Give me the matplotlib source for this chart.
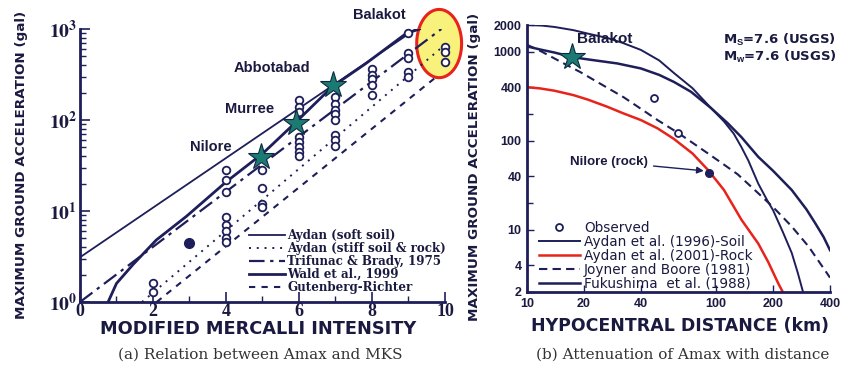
import numpy as np
import matplotlib
matplotlib.use("Agg")
import matplotlib.pyplot as plt
from matplotlib.lines import Line2D

plt.rcParams['mathtext.fontset'] = 'custom'
plt.rcParams['mathtext.rm'] = 'Liberation Sans:bold'
plt.rcParams['mathtext.bf'] = 'Liberation Sans:bold'
plt.rcParams['mathtext.it'] = 'Liberation Sans:bold'

NAVY = '#1e1e5a'
TXT = '#1a1a40'
RED = '#e8231c'
STAR = '#1b7a72'

# ---------------- Panel (a) data ----------------
mmi_ticks = [0, 2, 4, 6, 8, 10]
soft_I = [0.0, 9.2]
soft_A = [3.1, 1000]
stiff_I = [1.7, 9.9]
stiff_A = [1.0, 620]
trif_I = [0.0, 9.9]
trif_A = [1.0, 1000]
wald_I = [0.77, 1.0, 1.46, 2.09, 2.91, 4.01, 5.01, 5.92, 6.92, 7.83, 8.93, 9.3]
wald_A = [1.0, 1.6, 2.6, 4.8, 8.7, 21, 43, 95, 234, 417, 890, 1000]
gr_I = [2.1, 9.75]
gr_A = [1.0, 295]

obs_I = ([2] * 2 + [4] * 8 + [5] * 4 + [6] * 8 + [7] * 8 + [8] * 5 + [9] * 5 + [10] * 3)
obs_A = ([1.3, 1.6,
          28, 22, 16, 8.5, 7, 6, 5, 4.6,
          28, 18, 12, 11,
          165, 138, 122, 65, 57, 50, 45, 40,
          180, 150, 130, 115, 100, 68, 60, 52,
          360, 315, 280, 240, 190,
          900, 550, 480, 340, 300,
          640, 560, 430])
filled_I = [3]
filled_A = [4.4]
star_I = [4.97, 5.92, 6.92]
star_A = [39, 93, 242]
site_names = ['Nilore', 'Murree', 'Abbotabad', 'Balakot']
site_I = [3.58, 4.64, 5.25, 8.2]
site_A = [51, 132, 370, 1410]

ell_center = (9.84, 2.84)   # (MMI, log10 A)
ell_half = (0.615, 0.375)

# ---------------- Panel (b) data ----------------
dist_ticks = [10, 20, 40, 100, 200, 400]
acc_ticks = [2, 4, 10, 40, 100, 400, 1000, 2000]
aydsoil_R = [10, 12, 14, 17.6, 21, 26.6, 32, 40, 50, 59.8, 75, 94, 110, 124, 136, 148,
             167, 185, 200, 225, 251, 270, 290]
aydsoil_A = [2000, 1970, 1900, 1750, 1600, 1430, 1260, 1050, 800, 578, 390, 233, 165, 120,
             85, 60, 33, 22, 16.6, 9.5, 5.5, 3.3, 1.9]
aydrock_R = [10, 11.7, 14, 17.6, 21, 26.6, 32, 40, 49, 59.8, 75, 90.6, 110, 136, 167, 189,
             213, 228]
aydrock_A = [400, 388, 365, 326, 290, 241, 205, 171, 138, 105, 72, 47, 28, 13, 7, 4.3,
             2.5, 1.9]
jb_R = [10, 12, 15, 19.2, 24, 32.4, 40, 49.2, 62.8, 75, 90.6, 110, 130, 160, 200, 250,
        308, 400]
jb_A = [1200, 1000, 776, 589, 447, 309, 229, 170, 123, 95, 72, 54, 42, 28, 18, 11, 6.5, 2.9]
fuku_R = [10, 12, 14, 17.4, 22, 30, 40, 50, 60, 73.7, 94, 115, 136, 167, 200, 251, 300,
          333, 370, 400]
fuku_A = [1150, 1050, 980, 870, 810, 740, 650, 550, 457, 355, 233, 158, 110, 66, 46, 28,
          17, 12, 8.3, 5.9]
obsb_R = [46.8, 62.8]
obsb_A = [300, 123]
nilore_R = [91.6]
nilore_A = [44]
balakot_R = [17.2]
balakot_A = [870]

fig = plt.figure(figsize=(8.45, 3.75), dpi=100)

# ================= Panel (a) =================
ax1 = fig.add_axes([80 / 845, 1 - 302 / 375, 365 / 845, 273 / 375])
ax1.set_yscale('log')
ax1.set_xlim(0, 10)
ax1.set_ylim(1, 1000)

t = np.linspace(0, 2 * np.pi, 200)
ex = ell_center[0] + ell_half[0] * np.cos(t)
ey = 10 ** (ell_center[1] + ell_half[1] * np.sin(t))
ax1.fill(ex, ey, facecolor='#f8f27c', edgecolor=RED, lw=2.2, clip_on=False, zorder=1)

ax1.plot(soft_I, soft_A, color=NAVY, lw=1.3, zorder=3, label='Aydan (soft soil)')
ax1.plot(stiff_I, stiff_A, color=NAVY, lw=1.4, ls=(0, (1, 3)), zorder=3,
         label='Aydan (stiff soil & rock)')
ax1.plot(trif_I, trif_A, color=NAVY, lw=1.6, ls=(0, (7, 2.5, 1.5, 2.5)), zorder=3,
         label='Trifunac & Brady, 1975')
ax1.plot(wald_I, wald_A, color=NAVY, lw=2.0, zorder=3, label='Wald et al., 1999')
ax1.plot(gr_I, gr_A, color=NAVY, lw=1.5, ls=(0, (3, 3)), zorder=3,
         label='Gutenberg-Richter')

ax1.plot(obs_I, obs_A, 'o', ms=5.5, mfc='white', mec=NAVY, mew=1.3, zorder=4, clip_on=False)
ax1.plot(filled_I, filled_A, 'o', ms=7, mfc=NAVY, mec=NAVY, zorder=4)
ax1.plot(star_I, star_A, '*', ms=20, mfc=STAR, mec='#0f2a40', mew=0.8, zorder=5)

for n, x, y in zip(site_names, site_I, site_A):
    ax1.text(x, y, n, ha='center', va='center', fontsize=10.5, fontweight='bold',
             family='Liberation Sans', color=TXT, zorder=6)

for s in ['top', 'right']:
    ax1.spines[s].set_visible(False)
for s in ['left', 'bottom']:
    ax1.spines[s].set_linewidth(2)
    ax1.spines[s].set_color(NAVY)

ax1.set_xticks(mmi_ticks)
ax1.set_xticks(range(0, 11), minor=True)
ax1.set_xticklabels([str(v) for v in mmi_ticks], fontsize=13, fontweight='bold',
                    family='Liberation Serif', color=TXT)
ax1.set_yticks([1, 10, 100, 1000])
ax1.set_yticklabels([r'$\mathbf{10^{%d}}$' % k for k in range(4)], fontsize=14, color=TXT,
                    math_fontfamily='stix')
ax1.tick_params(axis='both', which='both', direction='in', color=NAVY)
ax1.tick_params(axis='both', which='major', length=7, width=1.2)
ax1.tick_params(axis='x', which='major', pad=0.5)
ax1.tick_params(axis='y', which='major', pad=2)
ax1.tick_params(axis='both', which='minor', length=4, width=1.0)

leg1 = ax1.legend(loc='lower left', bbox_to_anchor=(0.46, 0.025), frameon=False,
                  handlelength=3.0, handletextpad=0.2, labelspacing=0.0,
                  borderpad=0.1, borderaxespad=0.0,
                  prop={'family': 'DejaVu Serif', 'weight': 'bold', 'size': 8.6})
for tx in leg1.get_texts():
    tx.set_color(TXT)

# ================= Panel (b) =================
ax2 = fig.add_axes([527 / 845, 1 - 292 / 375, 303 / 845, 267 / 375])
ax2.set_xscale('log')
ax2.set_yscale('log')
ax2.set_xlim(10, 400)
ax2.set_ylim(2, 2000)

ax2.plot(aydsoil_R, aydsoil_A, color=NAVY, lw=1.4, label='Aydan et al. (1996)-Soil')
ax2.plot(aydrock_R, aydrock_A, color=RED, lw=1.8, label='Aydan et al. (2001)-Rock')
ax2.plot(jb_R, jb_A, color=NAVY, lw=1.5, ls=(0, (4, 2.5)), label='Joyner and Boore (1981)')
ax2.plot(fuku_R, fuku_A, color=NAVY, lw=1.8, label='Fukushima  et al. (1988)')
ax2.plot(obsb_R, obsb_A, 'o', ms=5, mfc='white', mec=NAVY, mew=1.3, zorder=4)
ax2.plot(nilore_R, nilore_A, 'o', ms=5.5, mfc=NAVY, mec=NAVY, zorder=4)
ax2.plot(balakot_R, balakot_A, '*', ms=20, mfc=STAR, mec='#0f2a40', mew=0.8, zorder=5)

ax2.text(25.6, 1390, 'Balakot', ha='center', va='center', fontsize=11, fontweight='bold',
         family='Liberation Sans', color=TXT, zorder=6)
ax2.text(0.647, 0.945, r'M$_{\mathrm{S}}$=7.6 (USGS)', transform=ax2.transAxes,
         fontsize=9.5, fontweight='bold', family='DejaVu Sans', color=TXT,
         va='center', ha='left')
ax2.text(0.647, 0.882, r'M$_{\mathrm{w}}$=7.6 (USGS)', transform=ax2.transAxes,
         fontsize=9.5, fontweight='bold', family='DejaVu Sans', color=TXT,
         va='center', ha='left')
ax2.annotate('Nilore (rock)', xy=(86, 46), xytext=(16.9, 58),
             fontsize=9.5, fontweight='bold', family='Liberation Sans', color=TXT,
             va='center', ha='left',
             arrowprops=dict(arrowstyle='-|>', color=NAVY, lw=1.0, mutation_scale=10,
                             shrinkA=2, shrinkB=0))

for s in ['top', 'right']:
    ax2.spines[s].set_visible(False)
for s in ['left', 'bottom']:
    ax2.spines[s].set_linewidth(2)
    ax2.spines[s].set_color(NAVY)

ax2.set_xticks(dist_ticks)
ax2.set_xticklabels([str(v) for v in dist_ticks], fontsize=9, fontweight='bold',
                    family='Liberation Sans', color=TXT)
ax2.set_yticks(acc_ticks)
ax2.set_yticklabels([str(v) for v in acc_ticks], fontsize=9, fontweight='bold',
                    family='Liberation Sans', color=TXT)
ax2.set_xticks([], minor=True)
ax2.set_yticks([20, 200], minor=True)
ax2.set_yticklabels([], minor=True)
ax2.tick_params(axis='both', which='both', direction='in', color=NAVY)
ax2.tick_params(axis='both', which='major', length=5, width=1.0, pad=4)
ax2.tick_params(axis='both', which='minor', length=4, width=1.0)

h_obs = Line2D([], [], ls='none', marker='o', ms=5, mfc='white', mec=NAVY, mew=1.3)
handles, labels = ax2.get_legend_handles_labels()
leg2 = ax2.legend([h_obs] + handles, ['Observed'] + labels, loc='lower left',
                  bbox_to_anchor=(0.035, 0.0), frameon=False,
                  handlelength=3.0, handletextpad=0.3, labelspacing=0.0,
                  borderpad=0.1, borderaxespad=0.0,
                  prop={'family': 'DejaVu Sans', 'size': 9.8})
for tx in leg2.get_texts():
    tx.set_color(TXT)

# ---------------- labels ----------------
ylab = 'MAXIMUM GROUND ACCELERATION (gal)'
fig.text(22 / 845, 1 - 165 / 375, ylab, rotation=90, ha='center', va='center',
         fontsize=9.7, fontweight='bold', family='DejaVu Sans', color=TXT)
fig.text(475 / 845, 1 - 167 / 375, ylab, rotation=90, ha='center', va='center',
         fontsize=9.7, fontweight='bold', family='DejaVu Sans', color=TXT)
fig.text(258 / 845, 1 - 329 / 375, 'MODIFIED MERCALLI INTENSITY', ha='center', va='center',
         fontsize=12.8, fontweight='bold', family='DejaVu Sans', color=TXT)
fig.text(680 / 845, 1 - 326 / 375, 'HYPOCENTRAL DISTANCE (km)', ha='center', va='center',
         fontsize=12.5, fontweight='bold', family='DejaVu Sans', color=TXT)
fig.text(260 / 845, 1 - 355 / 375, '(a) Relation between Amax and MKS', ha='center',
         va='center', fontsize=11, family='DejaVu Serif', color='#333333')
fig.text(683 / 845, 1 - 355 / 375, '(b) Attenuation of Amax with distance', ha='center',
         va='center', fontsize=11, family='DejaVu Serif', color='#333333')

fig.savefig('out.png', dpi=100)
